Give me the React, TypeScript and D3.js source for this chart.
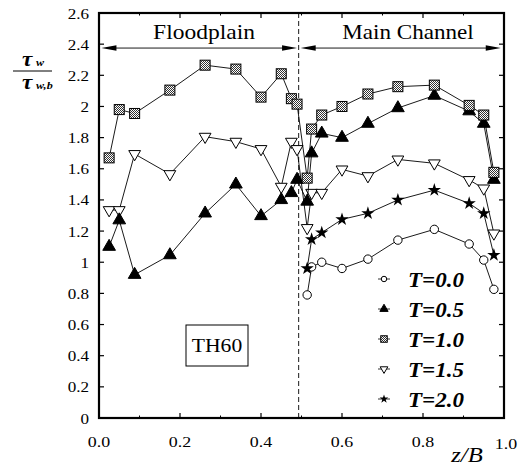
import React from 'react';
import * as d3 from 'd3';

// z/B positions of the measuring points
const zFlood = [0.025, 0.05, 0.088, 0.175, 0.262, 0.338, 0.40, 0.45, 0.475, 0.489];
const zMain = [0.514, 0.525, 0.55, 0.60, 0.664, 0.738, 0.828, 0.914, 0.95, 0.975];

// tau_w / tau_w,b
const t00Main = [0.79, 0.97, 1.0, 0.96, 1.02, 1.142, 1.211, 1.117, 1.014, 0.826];
const t05Flood = [1.10, 1.27, 0.92, 1.046, 1.314, 1.50, 1.297, 1.40, 1.445, 1.53];
const t05Main = [1.39, 1.70, 1.827, 1.80, 1.89, 1.99, 2.07, 1.97, 1.89, 1.53];
const t10Flood = [1.67, 1.98, 1.955, 2.105, 2.265, 2.24, 2.06, 2.21, 2.05, 2.015];
const t10Main = [1.54, 1.855, 1.945, 2.0, 2.08, 2.127, 2.137, 2.007, 1.945, 1.577];
const t15Flood = [1.335, 1.335, 1.695, 1.566, 1.806, 1.774, 1.727, 1.485, 1.774, 1.727];
const t15Main = [1.22, 1.446, 1.446, 1.596, 1.553, 1.66, 1.635, 1.528, 1.474, 1.185];
const t20Main = [0.96, 1.147, 1.19, 1.275, 1.314, 1.40, 1.463, 1.378, 1.314, 1.046];

const seriesLabels = ['T=0.0', 'T=0.5', 'T=1.0', 'T=1.5', 'T=2.0'];
const yTicks = [0, 0.2, 0.4, 0.6, 0.8, 1, 1.2, 1.4, 1.6, 1.8, 2, 2.2, 2.4, 2.6];
const yTickLabels = ['0', '0.2', '0.4', '0.6', '0.8', '1', '1.2', '1.4', '1.6', '1.8', '2', '2.2', '2.4', '2.6'];
const xTicks = [0, 0.2, 0.4, 0.6, 0.8, 1];
const xTickLabels = ['0.0', '0.2', '0.4', '0.6', '0.8', '1.0'];
const xMinor = [0.1, 0.3, 0.5, 0.7, 0.9];
const divideZ = 0.493;
const arrowV = 2.375;
const floodArrow = [0.006, 0.489];
const mainArrow = [0.498, 0.992];

const x = d3.scaleLinear().domain([0, 1]).range([99, 504]);
const y = d3.scaleLinear().domain([0, 2.6]).range([418, 13]);

function Txt({ x, y, sx = 1.2, size, anchor = 'start', weight = 'normal', italic = false, children }: any) {
  return (
    <text
      transform={`translate(${x},${y}) scale(${sx},1)`}
      textAnchor={anchor}
      fontFamily="Liberation Serif"
      fontSize={size}
      fontWeight={weight}
      fontStyle={italic ? 'italic' : 'normal'}
      fill="#000"
    >
      {children}
    </text>
  );
}

const tri = d3.symbol().type(d3.symbolTriangle);
const star = d3.symbol().type(d3.symbolStar);

function Marker({ kind, cx, cy, small = false }: any) {
  const k = small ? 0.65 : 1;
  if (kind === 0) return <circle cx={cx} cy={cy} r={4.2 * k} fill="#fff" stroke="#000" strokeWidth={1} />;
  if (kind === 1) return <path d={tri.size(70 * k * k)()!} transform={`translate(${cx},${cy})`} fill="#000" stroke="#000" strokeWidth={1} strokeLinejoin="round" />;
  if (kind === 2) {
    const s = 10 * k;
    return <rect x={cx - s / 2} y={cy - s / 2} width={s} height={s} fill="url(#checker)" stroke="#000" strokeWidth={1} />;
  }
  if (kind === 3) return <path d={tri.size(60 * k * k)()!} transform={`translate(${cx},${cy}) rotate(180)`} fill="#fff" stroke="#000" strokeWidth={1} />;
  return <path d={star.size(55 * k * k)()!} transform={`translate(${cx},${cy})`} fill="#000" />;
}

const line = d3.line<[number, number]>().x(d => x(d[0])).y(d => y(d[1]));

function Series({ kind, zs, vs }: any) {
  const pts: [number, number][] = zs.map((z: number, i: number) => [z, vs[i]]);
  return (
    <g>
      <path d={line(pts)!} fill="none" stroke="#000" strokeWidth={0.9} />
      {pts.map((p, i) => <Marker key={i} kind={kind} cx={x(p[0])} cy={y(p[1])} />)}
    </g>
  );
}

function Arrow({ z0, z1, v }: any) {
  const x0 = x(z0), x1 = x(z1), yy = y(v);
  return (
    <g>
      <line x1={x0 + 10} x2={x1 - 10} y1={yy} y2={yy} stroke="#000" strokeWidth={0.9} />
      <path d={`M${x0},${yy} L${x0 + 15},${yy - 2.8} L${x0 + 15},${yy + 2.8} Z`} fill="#000" />
      <path d={`M${x1},${yy} L${x1 - 15},${yy - 2.8} L${x1 - 15},${yy + 2.8} Z`} fill="#000" />
    </g>
  );
}

export default function App() {
  const allZ = zFlood.concat(zMain);
  return (
    <svg width={519} height={466} style={{ position: 'absolute', left: 0, top: 0, background: '#fff' }}>
      <defs>
        <pattern id="checker" width={2} height={2} patternUnits="userSpaceOnUse">
          <rect width={2} height={2} fill="#fff" />
          <rect width={1} height={1} fill="#333" />
          <rect x={1} y={1} width={1} height={1} fill="#333" />
        </pattern>
      </defs>
      <rect x={0} y={0} width={519} height={466} fill="#fff" />

      {/* ticks */}
      {yTicks.map((t, i) => (
        <g key={'y' + i}>
          <line x1={x(0)} x2={x(0) + 5} y1={y(t)} y2={y(t)} stroke="#000" strokeWidth={1.2} />
          <line x1={x(1)} x2={x(1) - 5} y1={y(t)} y2={y(t)} stroke="#000" strokeWidth={1.2} />
          <Txt x={89} y={y(t) + 5.5} size={14} sx={1.22} anchor="end">{yTickLabels[i]}</Txt>
        </g>
      ))}
      {xTicks.map((t, i) => (
        <g key={'x' + i}>
          <line x1={x(t)} x2={x(t)} y1={y(0)} y2={y(0) - 5} stroke="#000" strokeWidth={1.2} />
          <line x1={x(t)} x2={x(t)} y1={y(2.6)} y2={y(2.6) + 5} stroke="#000" strokeWidth={1.2} />
          <Txt x={x(t) + (i === 5 ? 2 : 0)} y={i === 5 ? 449 : 447} size={14} sx={1.28} anchor="middle">{xTickLabels[i]}</Txt>
        </g>
      ))}
      {xMinor.map((t, i) => (
        <g key={'m' + i}>
          <line x1={x(t)} x2={x(t)} y1={y(0)} y2={y(0) - 2.5} stroke="#000" strokeWidth={1} />
          <line x1={x(t)} x2={x(t)} y1={y(2.6)} y2={y(2.6) + 2.5} stroke="#000" strokeWidth={1} />
        </g>
      ))}

      {/* divider */}
      <line x1={x(divideZ)} x2={x(divideZ)} y1={y(2.6)} y2={y(0)} stroke="#000" strokeWidth={0.9} strokeDasharray="5,3" />

      {/* region labels */}
      <Txt x={204} y={39} size={21} sx={1.12} anchor="middle">Floodplain</Txt>
      <Txt x={408} y={39} size={21} sx={1.1} anchor="middle">Main Channel</Txt>
      <Arrow z0={floodArrow[0]} z1={floodArrow[1]} v={arrowV} />
      <Arrow z0={mainArrow[0]} z1={mainArrow[1]} v={arrowV} />

      {/* series */}
      <Series kind={0} zs={zMain} vs={t00Main} />
      <Series kind={4} zs={zMain} vs={t20Main} />
      <Series kind={3} zs={allZ} vs={t15Flood.concat(t15Main)} />
      <Series kind={1} zs={allZ} vs={t05Flood.concat(t05Main)} />
      <Series kind={2} zs={allZ} vs={t10Flood.concat(t10Main)} />

      {/* legend */}
      {seriesLabels.map((s, i) => {
        const cy = 279 + i * 30;
        return (
          <g key={s}>
            <line x1={378} x2={390} y1={cy} y2={cy} stroke="#000" strokeWidth={0.8} />
            <Marker kind={i} cx={384} cy={cy} small />
            <Txt x={408} y={cy + 7.5} size={20} sx={1.15} weight="bold" italic>{s}</Txt>
          </g>
        );
      })}

      {/* TH60 box */}
      <rect x={186} y={325} width={62} height={41} fill="#fff" stroke="#000" strokeWidth={1} />
      <Txt x={217} y={352} size={18} sx={1.2} anchor="middle">TH60</Txt>

      {/* frame */}
      <rect x={x(0)} y={y(2.6)} width={x(1) - x(0)} height={y(0) - y(2.6)} fill="none" stroke="#000" strokeWidth={2.2} />

      {/* axis titles */}
      <Txt x={467} y={462} size={22} sx={1.12} anchor="middle" italic>z/B</Txt>
      <Txt x={27} y={66} size={21} sx={1.1} anchor="middle" weight="bold" italic>τ</Txt>
      <Txt x={36} y={66} size={11} sx={1.1} weight="bold" italic>w</Txt>
      <line x1={13} x2={52} y1={71} y2={71} stroke="#000" strokeWidth={1} />
      <Txt x={27} y={89} size={21} sx={1.1} anchor="middle" weight="bold" italic>τ</Txt>
      <Txt x={36} y={89} size={11} sx={1.1} weight="bold" italic>w,b</Txt>
    </svg>
  );
}
